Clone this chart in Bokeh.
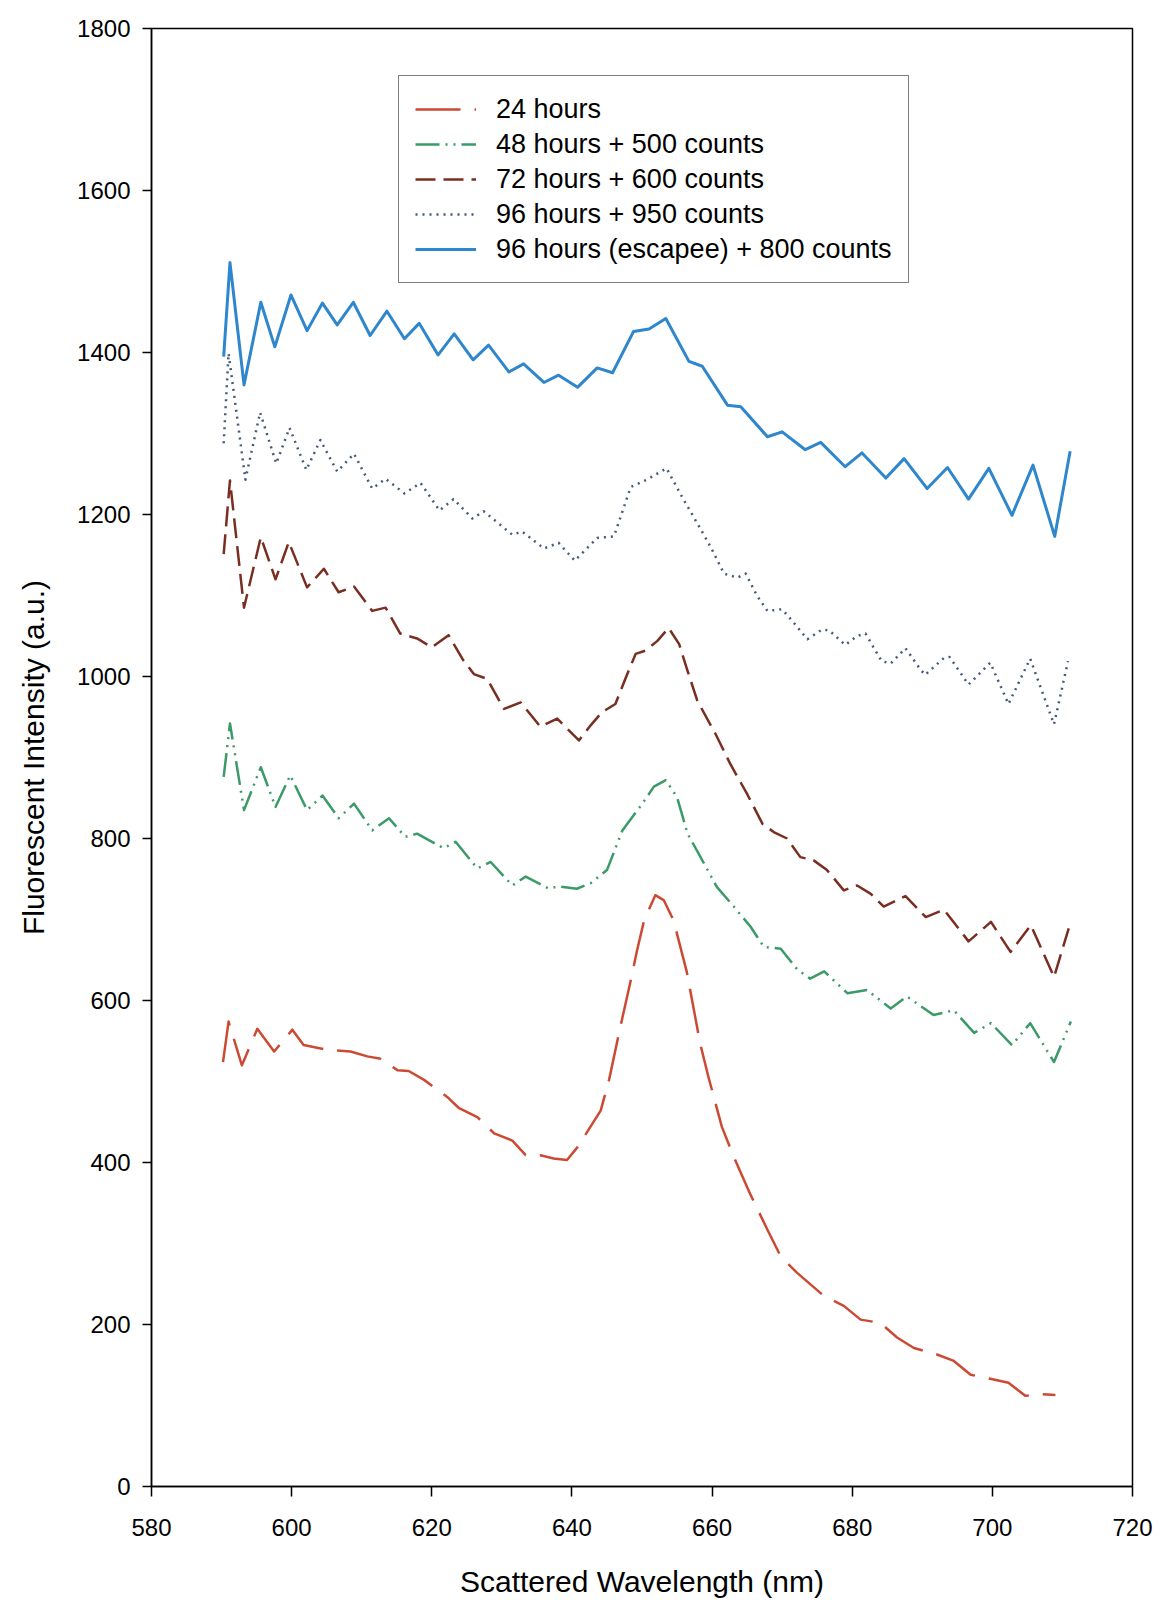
from bokeh.plotting import figure
from bokeh.models import Range1d, FixedTicker, Legend, LegendItem
from bokeh.embed import file_html
from bokeh.resources import INLINE

# ---- data (plotted values include the offsets) ----
x_24 = [590.2, 591.0, 592.9, 595.1, 597.5, 600.1, 601.7, 605.1, 608.4, 610.8, 612.7, 615.1, 616.7,
        618.9, 622.2, 623.9, 626.5, 628.9, 631.5, 633.4, 635.5, 637.4, 639.3, 640.8, 644.1, 645.3,
        646.9, 648.4, 649.3, 650.3, 651.9, 653.1, 654.5, 656.4, 658.3, 659.5, 661.4, 663.1, 665.5,
        667.9, 669.8, 672.1, 676.0, 678.8, 681.2, 684.0, 686.4, 688.8, 692.1, 694.5, 696.9, 699.7,
        702.3, 704.7, 706.9, 709.0]
y_24 = [524, 574, 520, 565, 537, 564, 545, 539, 537, 531, 528, 514, 513,
        502, 481, 467, 456, 436, 427, 409, 409, 405, 403, 419, 464, 502,
        567, 625, 662, 699, 730, 724, 699, 635, 547, 505, 444, 407, 360,
        317, 284, 264, 235, 223, 206, 202, 184, 171, 163, 155, 138, 133,
        128, 112, 114, 113]

x_48 = [590.3, 591.2, 593.2, 595.6, 597.7, 599.8, 602.2, 604.4, 606.7, 608.9, 611.5, 613.9, 616.2,
        617.9, 621.7, 623.4, 626.5, 628.4, 631.5, 633.4, 636.7, 638.1, 640.7, 642.7, 645.0, 647.2,
        649.8, 651.7, 653.4, 655.0, 656.5, 658.1, 660.7, 663.1, 665.5, 667.4, 669.8, 672.2, 674.0,
        676.0, 679.3, 682.1, 685.5, 687.8, 691.6, 694.5, 697.4, 699.8, 702.8, 705.4, 708.8, 711.2]
y_48 = [876, 942, 835, 888, 839, 878, 835, 853, 825, 843, 810, 825, 802,
        806, 788, 796, 763, 771, 742, 753, 738, 741, 738, 745, 761, 810,
        840, 864, 872, 851, 806, 781, 740, 716, 691, 666, 664, 638, 627,
        636, 609, 613, 590, 605, 582, 588, 560, 572, 545, 572, 524, 574]

x_72 = [590.3, 591.2, 593.2, 595.6, 597.7, 599.6, 602.2, 604.6, 606.7, 608.9, 611.5, 613.4, 615.5,
        617.9, 620.0, 622.4, 624.5, 626.0, 627.9, 630.3, 632.7, 635.5, 637.9, 641.0, 642.7, 644.3,
        646.2, 647.9, 649.1, 650.5, 652.2, 653.8, 655.3, 656.5, 657.9, 660.5, 662.6, 665.0, 667.2,
        668.8, 670.7, 672.6, 674.5, 676.4, 678.8, 680.7, 682.6, 684.5, 687.6, 690.5, 693.1, 696.6,
        699.8, 702.6, 705.5, 708.8, 710.9]
y_72 = [1151, 1242, 1085, 1172, 1120, 1166, 1110, 1133, 1104, 1111, 1081, 1085, 1053,
        1047, 1036, 1051, 1020, 1003, 997, 960, 968, 938, 948, 921, 940, 956,
        966, 1003, 1028, 1032, 1044, 1060, 1040, 1007, 970, 929, 892, 855, 818,
        808, 800, 777, 773, 761, 736, 742, 732, 716, 729, 703, 712, 673,
        697, 660, 693, 629, 689]

x_96 = [590.3, 591.0, 593.4, 595.5, 597.8, 599.7, 602.1, 604.1, 606.5, 608.9, 611.5, 613.4, 616.1,
        618.4, 621.1, 623.1, 625.8, 627.4, 631.5, 632.9, 636.0, 638.1, 640.4, 643.6, 646.0, 648.4,
        650.7, 653.5, 655.7, 657.9, 659.8, 661.7, 663.6, 664.8, 666.4, 667.9, 670.0, 671.4, 673.6,
        675.7, 676.7, 679.0, 680.7, 681.9, 684.2, 685.5, 687.6, 689.7, 690.4, 693.1, 693.9, 696.6,
        699.7, 702.3, 705.4, 708.8, 710.8]
y_96 = [1288, 1399, 1243, 1326, 1263, 1307, 1255, 1292, 1253, 1275, 1232, 1244, 1226,
        1239, 1205, 1219, 1195, 1204, 1175, 1179, 1158, 1165, 1143, 1171, 1173, 1234,
        1243, 1257, 1222, 1189, 1160, 1127, 1122, 1127, 1100, 1081, 1083, 1069, 1046,
        1058, 1057, 1039, 1050, 1053, 1019, 1016, 1035, 1009, 1002, 1023, 1024, 990,
        1017, 966, 1022, 941, 1019]

x_esc = [590.3, 591.2, 593.2, 595.6, 597.6, 599.9, 602.2, 604.4, 606.5, 608.8, 611.2, 613.6, 616.1,
         618.2, 620.9, 623.2, 625.9, 628.1, 631.0, 633.1, 636.0, 638.1, 640.8, 643.6, 645.8, 648.8,
         651.0, 653.4, 656.7, 658.6, 662.2, 664.1, 667.9, 670.0, 673.3, 675.5, 679.0, 681.4, 684.8,
         687.4, 690.7, 693.6, 696.6, 699.5, 702.8, 705.8, 708.9, 711.1]
y_esc = [1395, 1511, 1360, 1462, 1407, 1471, 1427, 1461, 1434, 1462, 1421, 1451, 1417,
         1436, 1397, 1423, 1391, 1409, 1376, 1386, 1363, 1372, 1357, 1381, 1375, 1426,
         1429, 1442, 1389, 1383, 1335, 1333, 1296, 1302, 1280, 1289, 1259, 1276, 1245,
         1269, 1232, 1258, 1219, 1257, 1199, 1261, 1173, 1278]

labels = ["24 hours", "48 hours + 500 counts", "72 hours + 600 counts",
          "96 hours + 950 counts", "96 hours (escapee) + 800 counts"]
x_ticks = [580, 600, 620, 640, 660, 680, 700, 720]
y_ticks = [0, 200, 400, 600, 800, 1000, 1200, 1400, 1600, 1800]

FONT = "Liberation Sans"

p = figure(width=1153, height=1600,
           x_range=Range1d(580, 720), y_range=Range1d(0, 1800),
           output_backend="svg", toolbar_location=None,
           min_border_left=151, min_border_top=28, min_border_right=21, min_border_bottom=113)
p.background_fill_color = "white"
p.border_fill_color = "white"
p.outline_line_color = "black"
p.outline_line_width = 1.5
p.xgrid.visible = False
p.ygrid.visible = False

for ax in (p.xaxis[0], p.yaxis[0]):
    ax.axis_line_color = "black"
    ax.axis_line_width = 1.5
    ax.major_tick_line_color = "black"
    ax.major_tick_line_width = 1.5
    ax.major_tick_in = 0
    ax.minor_tick_line_color = None
    ax.major_label_text_font = FONT
    ax.major_label_text_font_size = "24px"
    ax.major_label_text_color = "black"
    ax.axis_label_text_font = FONT
    ax.axis_label_text_font_size = "30px"
    ax.axis_label_text_font_style = "normal"
    ax.axis_label_text_color = "black"

p.xaxis.ticker = FixedTicker(ticks=x_ticks)
p.yaxis.ticker = FixedTicker(ticks=y_ticks)
p.xaxis.major_tick_out = 10
p.yaxis.major_tick_out = 9
p.xaxis.major_label_standoff = 22
p.yaxis.major_label_standoff = 12
p.xaxis.axis_label = "Scattered Wavelength (nm)"
p.yaxis.axis_label = "Fluorescent Intensity (a.u.)"
p.xaxis.axis_label_standoff = 26
p.yaxis.axis_label_standoff = 24

r24 = p.line(x_24, y_24, line_color="#cc4a33", line_width=2.5, line_dash="45 14", line_join="round")
r48 = p.line(x_48, y_48, line_color="#3a9a68", line_width=2.5, line_dash="24 6 2 6 2 6", line_join="round")
r72 = p.line(x_72, y_72, line_color="#7a2e22", line_width=2.5, line_dash="20 8", line_join="round")
r96 = p.line(x_96, y_96, line_color="#45597a", line_width=2.5, line_dash="2 5", line_join="round")
resc = p.line(x_esc, y_esc, line_color="#2e86cc", line_width=3, line_join="round")

legend = Legend(items=[LegendItem(label=l, renderers=[r]) for l, r in
                       zip(labels, [r24, r48, r72, r96, resc])],
                location=(247, 1203))
legend.border_line_color = "black"
legend.border_line_width = 1.5
legend.background_fill_color = "white"
legend.background_fill_alpha = 1.0
legend.padding = 16
legend.spacing = 1
legend.margin = 0
legend.glyph_width = 61
legend.glyph_height = 34
legend.label_height = 34
legend.label_standoff = 20
legend.label_text_font = FONT
legend.label_text_font_size = "27px"
legend.label_text_color = "black"
p.add_layout(legend, "center")

open("out.html", "w").write(file_html(p, INLINE))
